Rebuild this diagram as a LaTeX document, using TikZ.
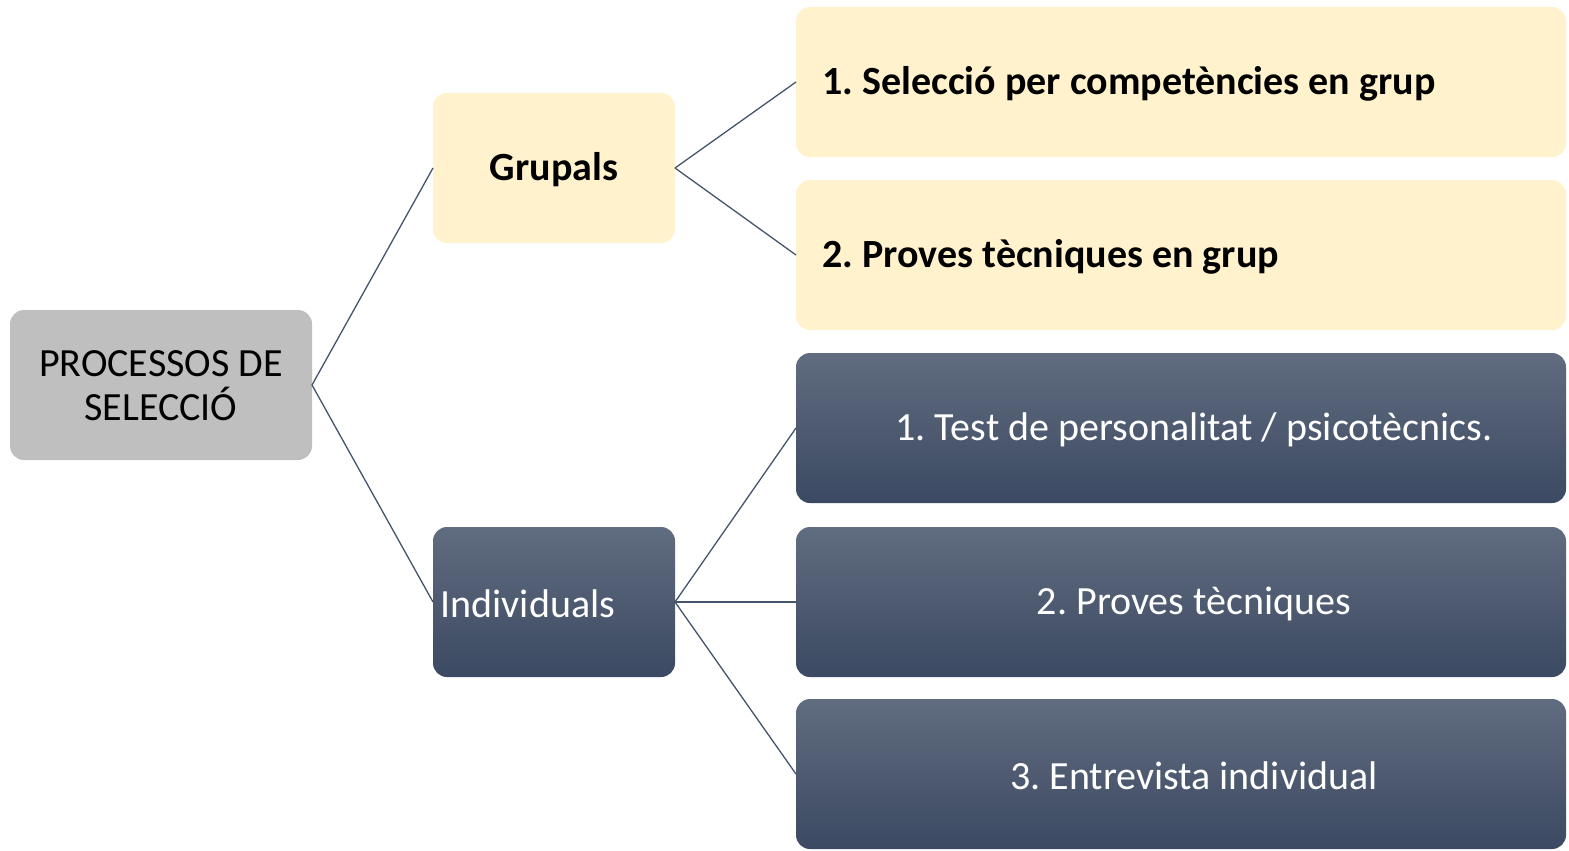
\documentclass[tikz,border=0pt]{standalone}
\usepackage{fontspec}
\setmainfont{Carlito}
\frenchspacing
\definecolor{rootgray}{HTML}{BFBFBF}
\definecolor{cream}{HTML}{FFF2CC}
\definecolor{slatetop}{HTML}{606C7F}
\definecolor{slatebot}{HTML}{3B4962}
\definecolor{linecol}{HTML}{44546A}
\tikzset{
  box/.style={rectangle, rounded corners=14pt, inner sep=0pt, outer sep=0pt},
  rootbox/.style={box, fill=rootgray, minimum width=302pt, minimum height=150pt, text=black, align=center},
  creambox/.style={box, fill=cream, text=black},
  darkbox/.style={box, top color=slatetop, bottom color=slatebot, text=white},
  midbox/.style={minimum width=242pt, minimum height=150pt},
  wide/.style={minimum width=770pt, minimum height=150pt},
  txt/.style={font=\fontsize{40}{44}\selectfont},
  btxt/.style={font=\fontsize{40}{44}\selectfont\bfseries},
  conn/.style={draw=linecol, line width=1.3pt},
}
\begin{document}
\begin{tikzpicture}[x=1pt,y=-1pt]
\useasboundingbox (0,0) rectangle (1569,851);
% boxes
\node[rootbox] (root) at (161,385) {};
\node[txt, align=center] (roottxt) at (161,386) {PROCESSOS DE\\SELECCIÓ};
\node[creambox, midbox] (grup) at (554,168) {};
\node[btxt] (gruptxt) at (554,170) {Grupals};
\node[darkbox, midbox] (indi) at (554,602) {};
\node[txt, text=white, anchor=west] (inditxt) at (437,604) {Individuals};
\node[creambox, wide] (g1) at (1181,82) {};
\node[btxt, anchor=west] (g1txt) at (819,84) {1. Selecció per competències en grup};
\node[creambox, wide] (g2) at (1181,255) {};
\node[btxt, anchor=west] (g2txt) at (819,257) {2. Proves tècniques en grup};
\node[darkbox, wide] (i1) at (1181,428) {};
\node[txt, text=white] (i1txt) at (1194,430) {1. Test de personalitat / psicotècnics.};
\node[darkbox, wide] (i2) at (1181,602) {};
\node[txt, text=white] (i2txt) at (1194,604) {2. Proves tècniques};
\node[darkbox, wide] (i3) at (1181,774) {};
\node[txt, text=white] (i3txt) at (1194,776) {3. Entrevista individual};
% connectors
\draw[conn] (root.east) -- (grup.west);
\draw[conn] (root.east) -- (indi.west);
\draw[conn] (grup.east) -- (g1.west);
\draw[conn] (grup.east) -- (g2.west);
\draw[conn] (indi.east) -- (i1.west);
\draw[conn] (indi.east) -- (i2.west);
\draw[conn] (indi.east) -- (i3.west);
\end{tikzpicture}
\end{document}
